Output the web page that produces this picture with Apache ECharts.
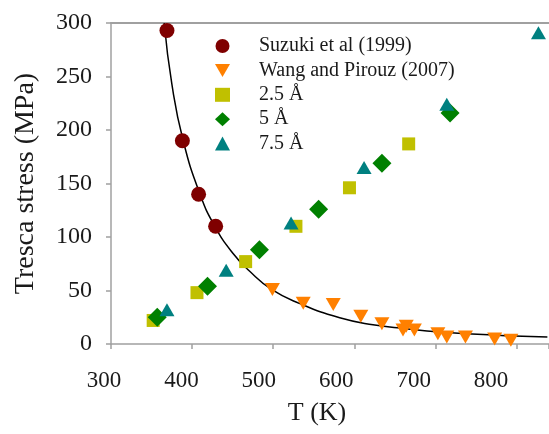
<!DOCTYPE html>
<html>
<head>
<meta charset="utf-8">
<script src="https://cdn.jsdelivr.net/npm/echarts@6/dist/echarts.min.js"></script>
<style>html,body{margin:0;padding:0;background:#fff}#c{width:549px;height:434px}</style>
</head>
<body>
<div id="c"></div>
<script>
// Data
const suzuki = [[369, 293], [388, 190], [408, 140], [429, 110]];
const wang = [[499, 51], [537, 38], [574, 37], [608, 26], [634, 19], [660, 13], [664, 16.5], [674, 13], [703, 9.6], [714, 6.5], [737, 6.5], [773, 4.7], [793, 3.4]];
const a25 = [[352, 22], [406, 48], [466, 77], [528, 110], [594, 146], [667, 187]];
const a5 = [[357, 25], [419, 54], [483, 88], [556, 126], [634, 169], [718, 216]];
const a75 = [[369, 32], [442, 69], [522, 113], [612, 165], [714, 224], [827, 291]];
const fitCurve = [[365.6, 300], [375, 243], [389, 190], [410, 139.5], [428, 110], [450, 85], [471, 68], [498, 51], [532, 38], [582, 24.5], [623, 18], [664, 14.3], [705, 11.2], [745, 9.3], [787, 7.8], [838, 6.5]];
const seriesNames = ['Suzuki et al (1999)', 'Wang and Pirouz (2007)', '2.5 Å', '5 Å', '7.5 Å'];
const xTicks = [300, 400, 500, 600, 700, 800];
const yTicks = [0, 50, 100, 150, 200, 250, 300];

const downTri = 'path://M0,0L20,0L10,17.3Z';
const font = 'Liberation Serif';
const axisGray = '#a0a0a0';
const txt = '#1a1a1a';

const chart = echarts.init(document.getElementById('c'), null, {renderer: 'canvas'});
chart.setOption({
  animation: false,
  backgroundColor: '#fff',
  textStyle: {fontFamily: font},
  grid: [
    {left: 111, right: 0, top: 23, bottom: 90, containLabel: false},
    // label-only grid: the reference's tick labels sit on a slightly narrower spacing than its ticks
    {left: 104, right: 27, top: 23, bottom: 90, containLabel: false}
  ],
  legend: {
    data: seriesNames,
    orient: 'vertical',
    left: 210, top: 31,
    itemWidth: 15, itemHeight: 14, itemGap: 4.4,
    textStyle: {fontFamily: font, fontSize: 20, color: txt, lineHeight: 20, padding: [0, 0, 0, 24]}
  },
  xAxis: [{
    gridIndex: 0, type: 'value', min: 300, max: 840, interval: 100,
    axisLine: {show: true, lineStyle: {color: axisGray, width: 1.5}},
    axisTick: {show: true, inside: false, length: 5, lineStyle: {color: axisGray, width: 1.5}},
    axisLabel: {show: false},
    splitLine: {show: false}
  }, {
    gridIndex: 0, type: 'value', position: 'top', min: 300, max: 840,
    axisLine: {show: true, lineStyle: {color: axisGray, width: 2}},
    axisTick: {show: false}, axisLabel: {show: false}, splitLine: {show: false}
  }, {
    gridIndex: 1, type: 'value', min: 300, max: 840, interval: 100,
    name: 'T (K)', nameLocation: 'middle', nameGap: 56,
    nameTextStyle: {fontFamily: font, fontSize: 26, color: txt, padding: [0, 0, 0, 8]},
    axisLine: {show: false}, axisTick: {show: false}, splitLine: {show: false},
    axisLabel: {show: true, showMaxLabel: false, margin: 25, fontFamily: font, fontSize: 23, color: txt,
      formatter: v => (xTicks.indexOf(v) >= 0 ? String(v) : '')}
  }],
  yAxis: [{
    gridIndex: 0, type: 'value', min: 0, max: 300, interval: 50,
    name: 'Tresca stress (MPa)', nameLocation: 'middle', nameGap: 71,
    nameTextStyle: {fontFamily: font, fontSize: 28, color: txt},
    axisLine: {show: true, lineStyle: {color: axisGray, width: 1.5}},
    axisTick: {show: true, inside: false, length: 5, lineStyle: {color: axisGray, width: 1.5}},
    axisLabel: {margin: 19, fontFamily: font, fontSize: 24, color: txt,
      formatter: v => (yTicks.indexOf(v) >= 0 ? String(v) : '')},
    splitLine: {show: false}
  }, {
    gridIndex: 1, type: 'value', min: 0, max: 300, show: false
  }],
  series: [
    {name: 'fit', type: 'line', data: fitCurve, smooth: true, showSymbol: false, symbol: 'none',
      lineStyle: {color: '#000', width: 1.5}, z: 1, silent: true},
    {name: seriesNames[0], type: 'scatter', data: suzuki, symbol: 'circle', symbolSize: 15,
      itemStyle: {color: '#7f0000', opacity: 1}, z: 3},
    {name: seriesNames[1], type: 'scatter', data: wang, symbol: downTri, symbolSize: [15, 13],
      itemStyle: {color: '#ff8000', opacity: 1}, z: 3},
    {name: seriesNames[2], type: 'scatter', data: a25, symbol: 'rect', symbolSize: 13,
      itemStyle: {color: '#c0c000', opacity: 1}, z: 3},
    {name: seriesNames[3], type: 'scatter', data: a5, symbol: 'diamond', symbolSize: [19, 19],
      itemStyle: {color: '#008000', opacity: 1}, z: 3},
    {name: seriesNames[4], type: 'scatter', data: a75, symbol: 'triangle', symbolSize: [15, 13],
      itemStyle: {color: '#008080', opacity: 1}, z: 3}
  ]
});
</script>
</body>
</html>
